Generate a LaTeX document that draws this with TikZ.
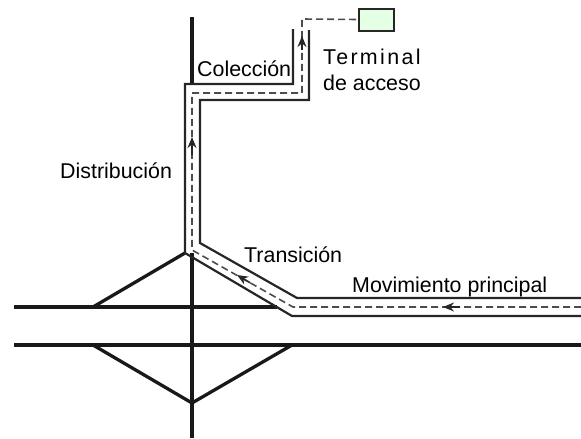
\documentclass[tikz,border=0pt]{standalone}
\usepackage{fontspec}
\setmainfont{Liberation Sans}
\usetikzlibrary{arrows.meta}

\tikzset{
	road/.style={draw=black!90,line width=3.3pt},
	lane/.style={draw=black!85,line width=2.2pt,line join=miter},
	route/.style={draw=black!70,line width=1.6pt,dash pattern=on 7pt off 4pt},
	flow/.style={draw=black!85,line width=1.6pt,-{Stealth[length=11pt,width=9pt]}},
	label/.style={inner sep=0pt,anchor=west,font=\fontsize{21.4}{24}\selectfont}
}

\begin{document}
\begin{tikzpicture}[x=1pt,y=-1pt]
	\useasboundingbox (0,0) rectangle (581,439);

	\begin{scope}[every node/.style={label}]
		\node (C) at (197,69) {Colección};
		\node (T) at (323,57) {\addfontfeature{LetterSpace=11}Terminal};
		\node (A) at (323,83) {de acceso};
		\node (D) at (60,171) {Distribución};
		\node (R) at (244,255) {Transición};
		\node (M) at (352,287) {Movimiento principal};
	\end{scope}

	\node[draw=black!85,line width=2pt,fill=green!10,minimum width=35pt,minimum height=22pt,inner sep=0pt] (B) at (376,19.5) {};

	% main roads
	\coordinate (n1) at (192,17);
	\coordinate (n2) at (192,84);
	\coordinate (n3) at (192,253);
	\coordinate (n4) at (192,438);
	\coordinate (w1) at (14,307);
	\coordinate (e1) at (277,307);
	\coordinate (w2) at (14,345);
	\coordinate (e2) at (581,345);
	\coordinate (d1) at (93,307);
	\coordinate (d2) at (185,253);
	\coordinate (d3) at (93,345);
	\coordinate (d4) at (192,403);
	\coordinate (d5) at (292,345);

	\draw[road] (n1) -- (n2);
	\draw[road] (n3) -- (n4);
	\draw[road] (w1) -- (e1);
	\draw[road] (w2) -- (e2);
	\draw[road] (d1) -- (d2);
	\draw[road] (d3) -- (d4) -- (d5);

	% lane edges
	\coordinate (a1) at (293,29);
	\coordinate (a2) at (293,84);
	\coordinate (a3) at (185,84);
	\coordinate (a4) at (292,316);
	\coordinate (a5) at (581,316);
	\coordinate (b1) at (309,30);
	\coordinate (b2) at (309,100);
	\coordinate (b3) at (200,100);
	\coordinate (b4) at (200,243);
	\coordinate (b5) at (297,298);
	\coordinate (b6) at (581,298);

	\draw[lane] (a1) -- (a2) -- (a3) -- (d2) -- (a4) -- (a5);
	\draw[lane] (b1) -- (b2) -- (b3) -- (b4) -- (b5) -- (b6);

	% route
	\coordinate (r1) at (581,307);
	\coordinate (r2) at (293,307);
	\coordinate (r3) at (192,250);
	\coordinate (r4) at (192,93);
	\coordinate (r5) at (302,93);
	\coordinate (r6) at (302,19);

	\draw[route] (r1) -- (r2) -- (r3) -- (r4) -- (r5) -- (r6) -- (B.west);

	% arrows
	\coordinate (f1) at (460,307);
	\coordinate (f2) at (443,307);
	\coordinate (f3) at (250,282.7);
	\coordinate (f4) at (237,275);
	\coordinate (f5) at (192,155);
	\coordinate (f6) at (192,137);
	\coordinate (f7) at (302,50);
	\coordinate (f8) at (302,36);

	\draw[flow] (f1) -- (f2);
	\draw[flow] (f3) -- (f4);
	\draw[flow] (f5) -- (f6);
	\draw[flow] (f7) -- (f8);
\end{tikzpicture}
\end{document}
